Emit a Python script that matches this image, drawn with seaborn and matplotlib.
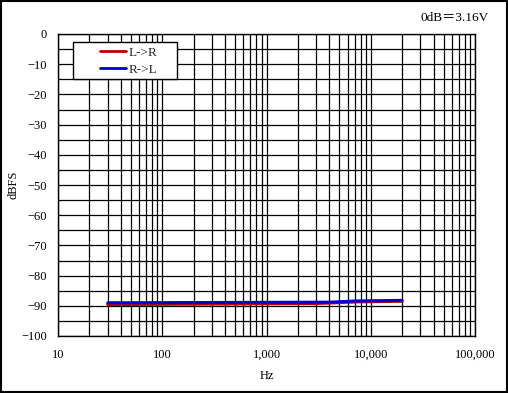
import numpy as np
import matplotlib
matplotlib.use("Agg")
import matplotlib.pyplot as plt
from matplotlib.ticker import FixedLocator, FuncFormatter, LogLocator, NullFormatter
import seaborn as sns

sns.set_theme(style="white")
plt.rcParams['font.family'] = ['Liberation Serif', 'Noto Sans CJK JP', 'DejaVu Sans']

# Data
freq_lr = [30, 2800, 2800, 7200, 7200, 20000]
val_lr = [-89.6, -89.6, -88.9, -88.9, -88.5, -88.5]
freq_rl = [30, 4000, 4000, 7200, 7200, 20000]
val_rl = [-89.0, -89.0, -88.6, -88.6, -88.2, -88.2]
y_ticks = [0, -10, -20, -30, -40, -50, -60, -70, -80, -90, -100]
x_ticks = [10, 100, 1000, 10000, 100000]

W, H = 508, 393
fig = plt.figure(figsize=(W/100, H/100), dpi=100)
ax = fig.add_axes([58/W, 1-336/H, 417/W, 302/H])

sns.lineplot(x=freq_lr, y=val_lr, sort=False, color="#c00000", linewidth=2.2, ax=ax, label="L->R")
sns.lineplot(x=freq_rl, y=val_rl, sort=False, color="#0000d0", linewidth=2.2, ax=ax, label="R->L")

ax.set_xscale("log")
ax.set_xlim(10, 100000)
ax.set_ylim(-100, 0)
ax.xaxis.set_major_locator(FixedLocator(x_ticks))
ax.xaxis.set_minor_locator(LogLocator(base=10, subs=np.arange(2, 10)))
ax.xaxis.set_minor_formatter(NullFormatter())
ax.xaxis.set_major_formatter(FuncFormatter(lambda v, p: f"{int(round(v)):,}"))
ax.yaxis.set_major_locator(FixedLocator(y_ticks))
ax.yaxis.set_minor_locator(FixedLocator(np.arange(-95, 0, 10)))
ax.grid(True, which="both", color="black", linewidth=0.9)
ax.set_axisbelow(True)
for s in ax.spines.values():
    s.set_color("black")
    s.set_linewidth(1.0)
ax.tick_params(axis="both", which="both", length=0, labelsize=9, colors="black")
ax.tick_params(axis="y", pad=8)
ax.tick_params(axis="x", pad=9)
ax.set_xlabel("Hz", fontsize=9, color="black", labelpad=7)
ax.set_ylabel("dBFS", fontsize=9, color="black", labelpad=1)

# legend frame drawn as a rectangle in pixel-derived figure coords
ax.add_patch(plt.Rectangle((73/W, 1-79/H), 104/W, 37/H, transform=fig.transFigure,
                           facecolor="white", edgecolor="black", linewidth=1.0,
                           zorder=4, clip_on=False))
leg = ax.legend(loc="upper left", bbox_to_anchor=((97-58)/417, (336-44)/302), fontsize=9.5,
                frameon=False, handlelength=2.0, borderpad=0.2, labelspacing=0.35,
                handletextpad=0.2, borderaxespad=0)
leg.set_zorder(10)
for h in leg.get_lines():
    h.set_linewidth(2)

fig.text(489/W, 1-18/H, "0dB＝3.16V", ha="right", va="center", fontsize=9.5, color="black")
fig.patches.append(plt.Rectangle((0.002, 0.002), 0.996, 0.996, transform=fig.transFigure,
                                 fill=False, edgecolor="black", linewidth=1.5))
fig.savefig("out.png", dpi=100)
